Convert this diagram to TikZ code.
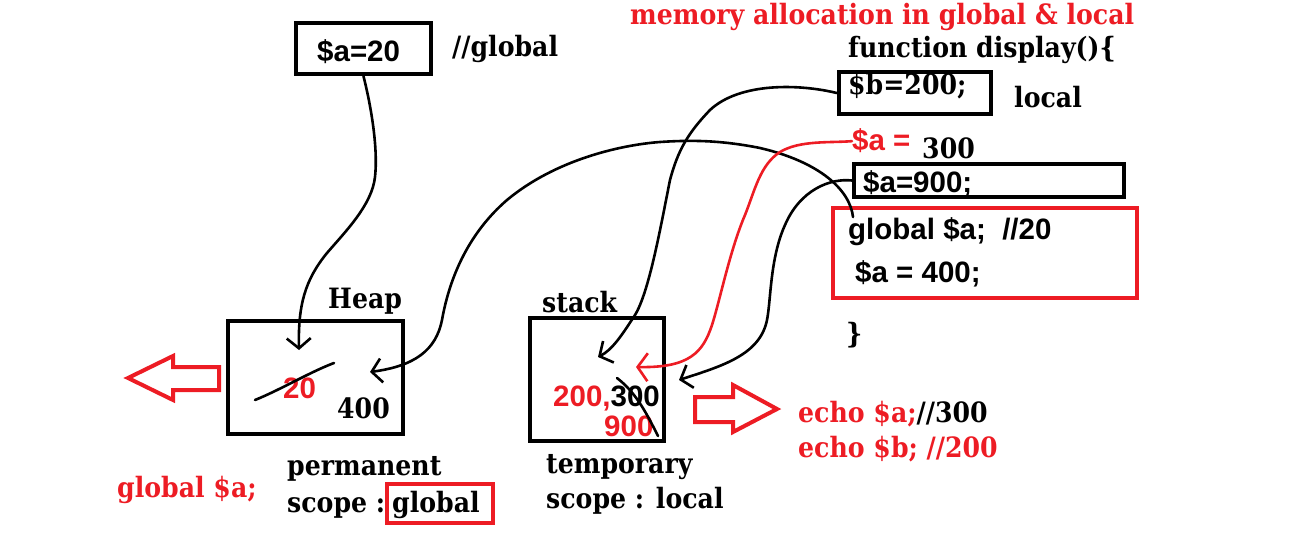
\documentclass[tikz,border=0pt]{standalone}
\usepackage{fontspec}
\usetikzlibrary{arrows.meta}
\newfontfamily\slab{DejaVu Serif}[FakeStretch=0.9]
\newfontfamily\sansf{Liberation Sans}
\definecolor{pred}{HTML}{ED1C24}
\tikzset{
  box/.style={draw, line width=4.5pt, minimum width=#1, inner sep=0pt},
  txt/.style={anchor=base west, inner sep=0pt, font=\slab\bfseries\fontsize{28}{32}\selectfont},
  stxt/.style={anchor=base west, inner sep=0pt, font=\sansf\bfseries\fontsize{29.5}{33}\selectfont},
  conn/.style={line width=2.6pt, line cap=round, -{Straight Barb[length=10pt,width=24pt,line width=2.6pt]}},
  hollow/.style={draw=pred, line width=4pt, line join=miter},
}
\begin{document}
\begin{tikzpicture}[x=1pt,y=-1pt]
\useasboundingbox (0,0) rectangle (1304,548);
% boxes
\node[box=135pt, minimum height=51pt] (a20) at (363.5,48.5) {};
\node[box=152pt, minimum height=42pt] (b200) at (915,93) {};
\node[box=270pt, minimum height=33pt] (a900) at (989,180.5) {};
\node[box=304pt, minimum height=90pt, draw=pred] (fn) at (985,253) {};
\node[box=175pt, minimum height=113pt] (heap) at (315.5,377.5) {};
\node[box=134pt, minimum height=123pt] (stack) at (597,379.5) {};
\node[box=106pt, minimum height=39pt, draw=pred, line width=4pt] (gbox) at (440,503.5) {};
% texts
\node[stxt] (ta20) at (317,62) {\$a=20};
\node[txt] (tglob) at (452,57) {//global};
\node[txt, text=pred] (title) at (630,25) {memory allocation in global \& local};
\node[txt] (tfunc) at (848,58) {function display()\{};
\node[txt] (tb200) at (848,95) {\$b=200;};
\node[txt] (tlocal) at (1014,108) {local};
\node[stxt, text=pred] (tared) at (852,151) {\$a =};
\node[txt] (t300) at (922,159) {300};
\node[stxt] (ta900) at (863,193) {\$a=900;};
\node[stxt] (tglobal) at (848,240) {global \$a;\ \ //20};
\node[stxt] (ta400) at (855,282) {\$a = 400;};
\node[txt] (tbrace) at (846,343) {\}};
\node[txt] (theap) at (328,308) {Heap};
\node[txt] (tstack) at (542,312) {stack};
\node[stxt, text=pred] (t20) at (283,398) {20};
\node[txt] (t400) at (337,418) {400};
\node[stxt, text depth=0pt] (t200) at (553,406) {\textcolor{pred}{200,}300};
\node[stxt, text=pred] (t900) at (604,436) {900};
\node[txt, text=pred] (techoa) at (798,422) {echo \$a;\textcolor{black}{//300}};
\node[txt, text=pred] (techob) at (798,457) {echo \$b; //200};
\node[txt, text=pred] (tgl) at (117,497) {global \$a;};
\node[txt] (tperm) at (287,475) {permanent};
\node[txt] (tscope1) at (287,512) {scope :};
\node[txt] (tgvalue) at (392,512) {global};
\node[txt] (ttemp) at (546,473) {temporary};
\node[txt] (tscope2) at (546,508) {scope : local};
% arrow end points
\coordinate (hA) at (299,350);
\coordinate (hB) at (370,372);
\coordinate (sA) at (598,357);
\coordinate (sB) at (636,367);
\coordinate (sC) at (679,380);
\coordinate (gstart) at (853,217);
% connectors
\draw[conn] (a20.south) .. controls (372,110) and (378,150) .. (375,177)
  .. controls (372,205) and (345,232) .. (327,253)
  .. controls (305,280) and (298,305) .. (hA);
\draw[conn] (gstart) .. controls (850,190) and (820,162) .. (760,148)
  .. controls (720,140) and (690,140) .. (660,142)
  .. controls (620,145) and (555,160) .. (507,200)
  .. controls (470,232) and (450,275) .. (442,320)
  .. controls (436,350) and (415,366) .. (hB);
\draw[conn] (b200.west) .. controls (800,84) and (740,82) .. (710,110)
  .. controls (688,133) and (678,150) .. (670,180)
  .. controls (660,230) and (648,298) .. (633,318)
  .. controls (622,335) and (612,350) .. (sA);
\draw[conn, draw=pred, -{Straight Barb[length=10pt,width=28pt,line width=2.6pt]}] (tared.west) .. controls (830,143) and (800,140) .. (780,152)
  .. controls (760,165) and (755,190) .. (745,215)
  .. controls (730,250) and (720,300) .. (712,325)
  .. controls (703,352) and (690,368) .. (sB);
\draw[conn] (a900.west) .. controls (830,178) and (800,190) .. (785,225)
  .. controls (770,258) and (771,300) .. (767,320)
  .. controls (760,355) and (722,366) .. (sC);
% strike lines
\draw[line width=2.6pt, line cap=round] (255,400) .. controls (280,390) and (310,372) .. (334,363);
\draw[line width=2.6pt, line cap=round] (617,378) .. controls (635,392) and (645,410) .. (658,436);
% hollow red arrows
\draw[hollow] (219,367) -- (173,367) -- (173,356) -- (128,378) -- (173,400) -- (173,390) -- (219,390) -- cycle;
\draw[hollow] (695,397) -- (733,397) -- (733,385) -- (777,409) -- (733,432) -- (733,422) -- (695,422) -- cycle;
\end{tikzpicture}
\end{document}
